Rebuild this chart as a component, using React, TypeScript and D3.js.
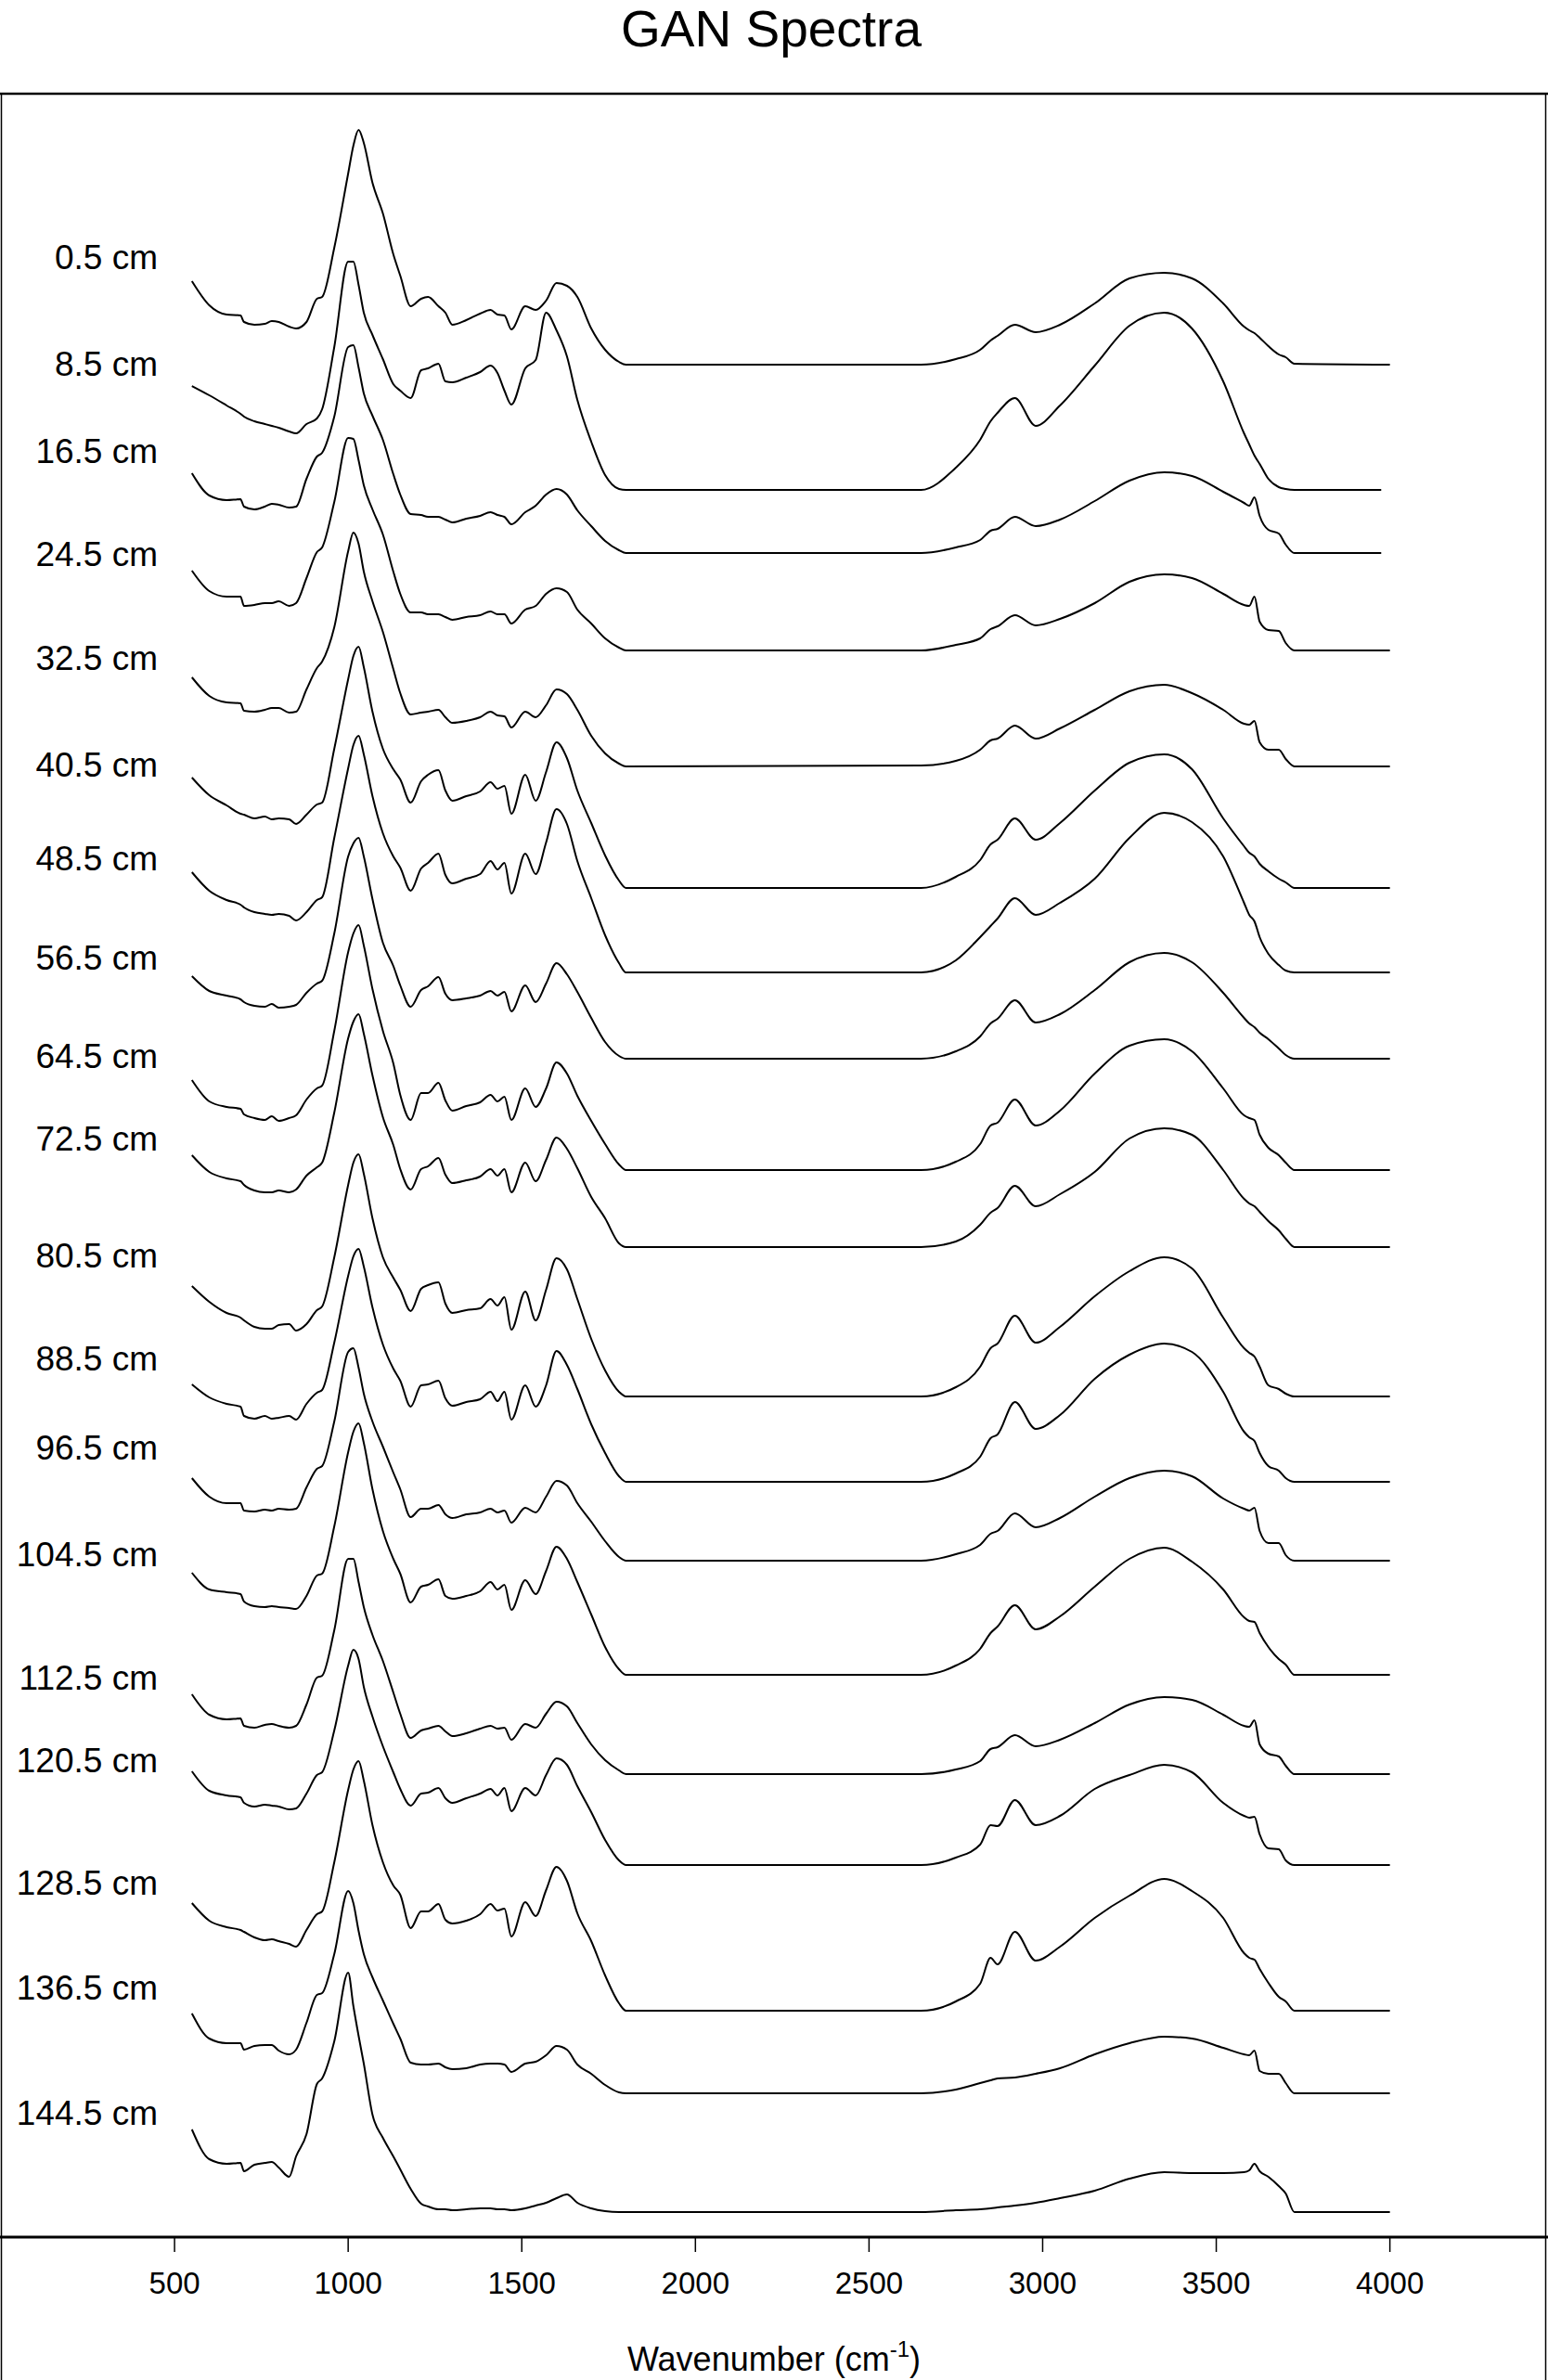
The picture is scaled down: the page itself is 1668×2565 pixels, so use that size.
import React from 'react';
import * as d3 from 'd3';

// Wavenumber grid (cm-1) shared by all spectra
const GRID = [
  550, 600, 650, 690, 700, 730, 760, 780, 800, 830,
  850, 880, 910, 925, 960, 1000, 1015, 1030, 1045, 1070,
  1100, 1130, 1150, 1180, 1210, 1230, 1260, 1280, 1300, 1340,
  1380, 1410, 1430, 1450, 1470, 1510, 1540, 1570, 1600, 1630,
  1660, 1700, 1740, 1780, 1800, 2650, 2750, 2820, 2850, 2870,
  2920, 2980, 3050, 3150, 3250, 3350, 3430, 3520, 3580, 3595,
  3610, 3625, 3650, 3680, 3700, 3725, 4000,
];

const DEPTHS = [
  '0.5 cm', '8.5 cm', '16.5 cm', '24.5 cm', '32.5 cm', '40.5 cm', '48.5 cm',
  '56.5 cm', '64.5 cm', '72.5 cm', '80.5 cm', '88.5 cm', '96.5 cm', '104.5 cm',
  '112.5 cm', '120.5 cm', '128.5 cm', '136.5 cm', '144.5 cm',
];

// stacking offset of each spectrum (absorbance units)
const OFFSETS = [
  2.018, 1.883, 1.815, 1.710, 1.585, 1.454, 1.363, 1.270, 1.150, 1.067,
  0.906, 0.814, 0.729, 0.606, 0.499, 0.401, 0.244, 0.155, 0.027,
];

// level of each depth label (absorbance units)
const LABEL_LEVELS = [
  2.121, 2.006, 1.912, 1.801, 1.689, 1.574, 1.473, 1.366, 1.260, 1.171,
  1.045, 0.934, 0.838, 0.723, 0.590, 0.501, 0.369, 0.256, 0.121,
];

// last wavenumber recorded for each spectrum
const END_WN = [4000, 3975, 3975, 4000, 4000, 4000, 4000, 4000, 4000, 4000,
  4000, 4000, 4000, 4000, 4000, 4000, 4000, 4000, 4000];

// absorbance above each spectrum's own baseline (mAU), on GRID
const S_0_5 = [90, 64, 54, 53, 46, 43, 44, 47, 46, 41,
  39, 46, 71, 73, 126, 206, 236, 253, 239, 196,
  163, 119, 96, 63, 71, 73, 63, 56, 43, 48,
  55, 59, 54, 53, 38, 63, 59, 69, 88, 85,
  73, 39, 16, 3, 0, 0, 6, 16, 26, 31,
  43, 35, 43, 66, 93, 99, 93, 66, 41, 37,
  34, 29, 20, 11, 8, 1, 0];
const S_8_5 = [112, 102, 91, 82, 79, 74, 71, 69, 67, 63,
  61, 71, 77, 87, 154, 246, 246, 221, 191, 167,
  141, 114, 107, 99, 129, 131, 136, 117, 116, 121,
  127, 134, 126, 107, 92, 131, 140, 191, 172, 144,
  97, 52, 16, 1, 0, 0, 24, 54, 74, 83,
  99, 69, 91, 134, 177, 191, 174, 117, 61, 49,
  37, 28, 12, 3, 1, 0, 0];
const S_16_5 = [86, 62, 57, 58, 50, 47, 50, 53, 52, 49,
  50, 80, 104, 108, 147, 222, 224, 200, 172, 148,
  122, 85, 63, 42, 41, 39, 39, 36, 33, 37,
  40, 44, 41, 39, 31, 44, 51, 63, 69, 63,
  46, 29, 13, 3, 0, 0, 6, 14, 24, 26,
  39, 29, 36, 56, 78, 87, 83, 66, 54, 51,
  60, 40, 25, 21, 9, 0, 0];
const S_24_5 = [86, 64, 58, 58, 48, 49, 51, 51, 53, 48,
  51, 78, 106, 111, 160, 229, 228, 205, 178, 152,
  125, 85, 61, 41, 41, 39, 39, 36, 33, 36,
  38, 42, 39, 39, 29, 44, 48, 61, 67, 63,
  44, 29, 13, 3, 0, 0, 6, 13, 23, 26,
  38, 27, 34, 51, 74, 82, 78, 61, 49, 48,
  58, 31, 22, 21, 8, 0, 0];
const S_32_5 = [96, 76, 69, 68, 60, 59, 61, 63, 63, 58,
  59, 83, 106, 113, 150, 232, 252, 240, 210, 178,
  145, 105, 79, 56, 58, 59, 61, 53, 47, 49,
  53, 59, 55, 54, 42, 59, 53, 66, 83, 78,
  61, 33, 14, 3, 0, 1, 6, 18, 28, 30,
  44, 30, 41, 61, 81, 88, 79, 61, 46, 45,
  49, 26, 18, 18, 8, 0, 0];
const S_40_5 = [119, 100, 89, 80, 79, 75, 77, 74, 75, 74,
  69, 79, 90, 92, 150, 225, 250, 260, 238, 190,
  150, 128, 117, 92, 115, 122, 127, 105, 94, 99,
  104, 114, 107, 110, 80, 122, 94, 125, 157, 140,
  105, 70, 35, 8, 0, 0, 12, 30, 47, 52,
  75, 52, 70, 105, 135, 144, 128, 75, 45, 38,
  34, 26, 18, 10, 6, 0, 0];
const S_48_5 = [108, 88, 78, 73, 70, 65, 63, 62, 63, 61,
  56, 65, 78, 81, 145, 220, 245, 255, 235, 190,
  150, 125, 113, 88, 112, 118, 128, 105, 96, 101,
  106, 120, 111, 118, 85, 128, 106, 140, 176, 160,
  120, 80, 40, 10, 0, 0, 13, 38, 50, 58,
  80, 62, 75, 101, 145, 172, 162, 125, 75, 62,
  55, 38, 20, 8, 2, 0, 0];
const S_56_5 = [89, 73, 68, 64, 61, 57, 56, 59, 55, 56,
  58, 71, 81, 84, 135, 218, 232, 238, 218, 172,
  125, 100, 79, 56, 74, 78, 88, 70, 63, 65,
  68, 73, 68, 72, 51, 79, 61, 81, 103, 91,
  72, 44, 18, 3, 0, 0, 8, 24, 38, 43,
  63, 39, 48, 74, 104, 114, 104, 71, 44, 38,
  34, 28, 21, 11, 4, 0, 0];
const S_64_5 = [97, 74, 68, 66, 60, 56, 54, 58, 53, 56,
  59, 76, 88, 91, 150, 235, 255, 264, 242, 195,
  150, 115, 81, 54, 83, 83, 94, 75, 64, 69,
  73, 81, 74, 79, 54, 88, 68, 88, 116, 104,
  80, 53, 28, 6, 0, 0, 9, 28, 48, 51,
  76, 48, 64, 104, 134, 141, 128, 88, 59, 56,
  54, 38, 24, 16, 8, 0, 0];
const S_72_5 = [99, 81, 74, 71, 67, 61, 59, 59, 61, 59,
  62, 77, 86, 91, 145, 225, 243, 251, 230, 185,
  140, 110, 84, 62, 84, 87, 96, 78, 69, 72,
  76, 84, 77, 84, 59, 91, 71, 94, 118, 106,
  85, 54, 31, 4, 0, 0, 6, 24, 37, 42,
  66, 44, 57, 81, 117, 128, 121, 83, 52, 47,
  44, 38, 28, 18, 9, 0, 0];
const S_80_5 = [119, 102, 90, 85, 82, 75, 73, 73, 77, 78,
  71, 78, 93, 97, 150, 228, 252, 261, 240, 192,
  150, 128, 115, 92, 116, 120, 123, 100, 90, 93,
  95, 105, 98, 107, 72, 113, 82, 115, 149, 137,
  105, 62, 28, 5, 0, 0, 10, 32, 52, 57,
  87, 58, 75, 108, 135, 150, 138, 85, 52, 47,
  43, 32, 12, 8, 3, 0, 0];
const S_88_5 = [105, 91, 84, 81, 71, 68, 71, 68, 69, 71,
  67, 84, 96, 99, 150, 222, 243, 251, 232, 188,
  148, 122, 109, 81, 104, 105, 109, 90, 82, 86,
  89, 97, 87, 97, 67, 104, 81, 104, 141, 126,
  100, 62, 31, 6, 0, 0, 9, 27, 47, 51,
  86, 57, 72, 111, 137, 149, 140, 97, 54, 48,
  44, 31, 17, 12, 4, 0, 0];
const S_96_5 = [89, 69, 62, 62, 54, 53, 55, 54, 56, 55,
  56, 79, 99, 102, 150, 225, 229, 208, 180, 150,
  123, 95, 77, 47, 56, 56, 60, 50, 46, 50,
  52, 56, 52, 54, 41, 57, 52, 69, 86, 81,
  62, 42, 21, 4, 0, 0, 7, 17, 29, 32,
  51, 36, 46, 69, 89, 97, 91, 67, 56, 54,
  57, 32, 19, 19, 6, 0, 0];
const S_104_5 = [110, 92, 89, 87, 79, 74, 73, 74, 73, 72,
  71, 85, 107, 109, 160, 240, 262, 271, 250, 200,
  155, 125, 109, 78, 95, 97, 103, 85, 82, 85,
  90, 100, 92, 97, 70, 102, 87, 112, 138, 125,
  100, 65, 30, 6, 0, 0, 10, 28, 45, 52,
  75, 49, 63, 95, 125, 137, 122, 92, 62, 58,
  57, 45, 30, 17, 11, 0, 0];
const S_112_5 = [86, 64, 59, 60, 52, 50, 53, 54, 52, 50,
  52, 75, 104, 106, 155, 232, 232, 207, 180, 150,
  122, 88, 65, 39, 47, 49, 52, 46, 41, 44,
  49, 52, 49, 50, 37, 54, 50, 65, 78, 73,
  55, 32, 15, 4, 0, 0, 5, 14, 27, 29,
  42, 30, 37, 55, 75, 83, 80, 64, 52, 51,
  58, 32, 22, 19, 9, 0, 0];
const S_120_5 = [101, 80, 75, 73, 67, 63, 65, 64, 63, 60,
  61, 77, 97, 100, 145, 215, 232, 222, 192, 160,
  128, 100, 82, 64, 77, 78, 83, 72, 67, 72,
  77, 82, 75, 83, 58, 83, 75, 97, 115, 108,
  85, 57, 27, 5, 0, 0, 8, 22, 43, 42,
  70, 43, 53, 82, 97, 108, 100, 67, 53, 51,
  52, 33, 18, 17, 5, 0, 0];
const S_128_5 = [116, 97, 90, 87, 85, 79, 76, 77, 75, 72,
  69, 87, 104, 107, 160, 238, 260, 269, 248, 200,
  160, 135, 125, 89, 107, 107, 115, 98, 94, 97,
  104, 115, 108, 110, 80, 117, 102, 130, 155, 140,
  105, 75, 38, 8, 0, 0, 10, 29, 57, 50,
  85, 54, 69, 100, 124, 142, 129, 100, 62, 57,
  55, 45, 30, 15, 10, 0, 0];
const S_136_5 = [86, 59, 54, 54, 47, 51, 52, 52, 46, 42,
  47, 76, 106, 108, 150, 218, 205, 175, 150, 125,
  100, 75, 59, 33, 31, 31, 32, 28, 26, 27,
  31, 32, 32, 31, 23, 32, 34, 41, 51, 47,
  31, 21, 9, 1, 0, 0, 4, 11, 14, 16,
  17, 21, 27, 42, 54, 61, 59, 49, 42, 41,
  46, 24, 21, 21, 11, 0, 0];
const S_144_5 = [89, 57, 52, 53, 44, 51, 53, 54, 48, 38,
  60, 84, 138, 144, 184, 258, 222, 190, 160, 105,
  80, 60, 46, 25, 9, 6, 3, 3, 2, 3,
  4, 4, 3, 3, 2, 4, 7, 10, 15, 19,
  10, 4, 1, 0, 0, 0, 2, 3, 4, 5,
  7, 10, 15, 23, 36, 43, 42, 42, 43, 45,
  52, 44, 38, 28, 20, 0, 0];

const SPECTRA = [
  S_0_5, S_8_5, S_16_5, S_24_5, S_32_5, S_40_5, S_48_5, S_56_5, S_64_5, S_72_5,
  S_80_5, S_88_5, S_96_5, S_104_5, S_112_5, S_120_5, S_128_5, S_136_5, S_144_5,
];

const X_TICKS = [500, 1000, 1500, 2000, 2500, 3000, 3500, 4000];

const WIDTH = 1668;
const HEIGHT = 2565;
const FONT = "'Liberation Sans', Arial, Helvetica, sans-serif";

export default function App() {
  const x = d3.scaleLinear().domain([0, 4450]).range([1, 1666]);
  const y = d3.scaleLinear().domain([0, 2.31]).range([2411, 101]);
  const line = d3
    .line<[number, number]>()
    .x((d) => x(d[0]))
    .y((d) => y(d[1]))
    .curve(d3.curveMonotoneX);

  const paths = SPECTRA.map((vals, i) => {
    const pts: [number, number][] = vals.map((v, j) => {
      const wn = j === GRID.length - 1 ? END_WN[i] : GRID[j];
      return [wn, OFFSETS[i] + v / 1000];
    });
    return line(pts) || '';
  });

  const yTop = y(2.31);
  const yAxis = y(0);
  const xl = x(0);
  const xr = x(4450);

  return (
    <svg
      width={WIDTH}
      height={HEIGHT}
      viewBox={`0 0 ${WIDTH} ${HEIGHT}`}
      style={{ position: 'absolute', left: 0, top: 0, display: 'block', background: '#fff' }}
      fontFamily={FONT}
    >
      <rect x={0} y={0} width={WIDTH} height={HEIGHT} fill="#fff" />
      <text x={831} y={50} fontSize={55} textAnchor="middle" fill="#000">
        GAN Spectra
      </text>

      {/* frame */}
      <line x1={0} x2={WIDTH} y1={yTop} y2={yTop} stroke="#000" strokeWidth={2.5} />
      <line x1={xl + 0.5} x2={xl + 0.5} y1={yTop} y2={HEIGHT} stroke="#000" strokeWidth={1.5} />
      <line x1={xr - 0.5} x2={xr - 0.5} y1={yTop} y2={HEIGHT} stroke="#000" strokeWidth={1.5} />
      <line x1={0} x2={WIDTH} y1={yAxis} y2={yAxis} stroke="#000" strokeWidth={3} />

      {/* spectra */}
      {paths.map((d, i) => (
        <path key={DEPTHS[i]} d={d} fill="none" stroke="#000" strokeWidth={2} strokeLinejoin="round" />
      ))}

      {/* depth labels */}
      {DEPTHS.map((t, i) => (
        <text key={t} x={170} y={y(LABEL_LEVELS[i])} fontSize={37} textAnchor="end" fill="#000">
          {t}
        </text>
      ))}

      {/* x axis ticks */}
      {X_TICKS.map((t) => (
        <g key={t}>
          <line x1={x(t)} x2={x(t)} y1={yAxis} y2={yAxis + 16} stroke="#000" strokeWidth={1.5} />
          <text x={x(t)} y={2472} fontSize={33} textAnchor="middle" fill="#000">
            {t}
          </text>
        </g>
      ))}

      <text x={834} y={2555} fontSize={36} textAnchor="middle" fill="#000">
        Wavenumber (cm
        <tspan dy={-15} fontSize={24}>-1</tspan>
        <tspan dy={15}>)</tspan>
      </text>
    </svg>
  );
}
